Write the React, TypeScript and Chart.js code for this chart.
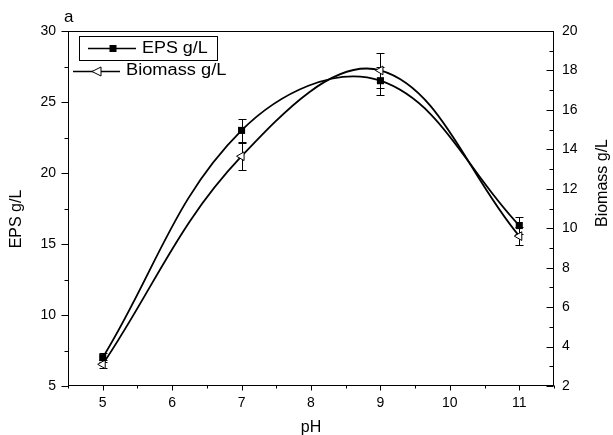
import { useEffect, useRef } from 'react';
import { Chart, registerables } from 'chart.js';

Chart.register(...registerables);

const phValues = [5, 7, 9, 11];
const epsValues = [7.0, 23.0, 26.5, 16.3];
const epsErrors = [0.3, 0.82, 1.0, 0.6];
const biomassValues = [3.1, 13.65, 18.0, 9.6];
const biomassErrors = [0.2, 0.68, 0.89, 0.45];

const xTicks = [5, 6, 7, 8, 9, 10, 11];
const xMinorTicks = [4.5, 5.5, 6.5, 7.5, 8.5, 9.5, 10.5, 11.5];
const epsTicks = [5, 10, 15, 20, 25, 30];
const epsMinorTicks = [7.5, 12.5, 17.5, 22.5, 27.5];
const biomassTicks = [2, 4, 6, 8, 10, 12, 14, 16, 18, 20];
const biomassMinorTicks = [3, 5, 7, 9, 11, 13, 15, 17, 19];

const FONT = "'Liberation Sans', Arial, Helvetica, sans-serif";

const overlayPlugin = {
  id: 'overlay',
  beforeDatasetsDraw(chart: any) {
    const ctx = chart.ctx;
    const x = chart.scales.x;
    const sets = [
      { scale: chart.scales.y, vals: epsValues, errs: epsErrors },
      { scale: chart.scales.y2, vals: biomassValues, errs: biomassErrors },
    ];
    ctx.save();
    ctx.strokeStyle = '#000';
    ctx.lineWidth = 1;
    for (const s of sets) {
      phValues.forEach((p, i) => {
        const px = Math.round(x.getPixelForValue(p)) + 0.5;
        const top = Math.round(s.scale.getPixelForValue(s.vals[i] + s.errs[i])) + 0.5;
        const bot = Math.round(s.scale.getPixelForValue(s.vals[i] - s.errs[i])) + 0.5;
        ctx.beginPath();
        ctx.moveTo(px, top);
        ctx.lineTo(px, bot);
        ctx.moveTo(px - 4, top);
        ctx.lineTo(px + 4, top);
        ctx.moveTo(px - 4, bot);
        ctx.lineTo(px + 4, bot);
        ctx.stroke();
      });
    }
    ctx.restore();
  },
  afterDraw(chart: any) {
    const ctx = chart.ctx;
    const a = chart.chartArea;
    const xs = chart.scales.x;
    const ys = chart.scales.y;
    const y2 = chart.scales.y2;
    ctx.save();
    ctx.strokeStyle = '#000';
    ctx.lineWidth = 1;
    const L = Math.round(a.left) + 0.5;
    const R = Math.round(a.right) - 0.5;
    const T = Math.round(a.top) + 0.5;
    const B = Math.round(a.bottom) - 0.5;
    ctx.strokeRect(L, T, R - L, B - T);
    ctx.beginPath();
    xTicks.forEach((v) => {
      const px = Math.round(xs.getPixelForValue(v)) + 0.5;
      ctx.moveTo(px, B);
      ctx.lineTo(px, B + 5);
    });
    xMinorTicks.forEach((v) => {
      const px = Math.round(xs.getPixelForValue(v)) + 0.5;
      ctx.moveTo(px, B);
      ctx.lineTo(px, B + 3);
    });
    epsTicks.forEach((v) => {
      const py = Math.round(ys.getPixelForValue(v)) + 0.5;
      ctx.moveTo(L, py);
      ctx.lineTo(L - 7, py);
    });
    epsMinorTicks.forEach((v) => {
      const py = Math.round(ys.getPixelForValue(v)) + 0.5;
      ctx.moveTo(L, py);
      ctx.lineTo(L - 4, py);
    });
    biomassTicks.forEach((v) => {
      const py = Math.round(y2.getPixelForValue(v)) + 0.5;
      ctx.moveTo(R, py);
      ctx.lineTo(R - 7, py);
    });
    biomassMinorTicks.forEach((v) => {
      const py = Math.round(y2.getPixelForValue(v)) + 0.5;
      ctx.moveTo(R, py);
      ctx.lineTo(R - 4, py);
    });
    ctx.stroke();

    // titles
    ctx.fillStyle = '#000';
    ctx.textBaseline = 'middle';
    ctx.textAlign = 'center';
    ctx.font = `16px ${FONT}`;
    ctx.fillText('pH', (a.left + a.right) / 2, 428);
    ctx.save();
    ctx.translate(17, 219);
    ctx.rotate(-Math.PI / 2);
    ctx.fillText('EPS g/L', 0, 0);
    ctx.restore();
    ctx.save();
    ctx.translate(603, 183);
    ctx.rotate(-Math.PI / 2);
    ctx.fillText('Biomass g/L', 0, 0);
    ctx.restore();
    ctx.textAlign = 'left';
    ctx.font = `17px ${FONT}`;
    ctx.fillText('a', 64, 17);

    // legend
    ctx.lineWidth = 1;
    ctx.strokeRect(79.5, 36.5, 138, 24);
    ctx.lineWidth = 1.5;
    ctx.beginPath();
    ctx.moveTo(88, 48.5);
    ctx.lineTo(136, 48.5);
    ctx.moveTo(73, 71.5);
    ctx.lineTo(120, 71.5);
    ctx.stroke();
    ctx.fillRect(109.5, 45, 7, 7);
    ctx.lineWidth = 1;
    ctx.fillStyle = '#fff';
    ctx.beginPath();
    ctx.moveTo(92, 71.5);
    ctx.lineTo(101, 67);
    ctx.lineTo(101, 76);
    ctx.closePath();
    ctx.fill();
    ctx.stroke();
    ctx.fillStyle = '#000';
    ctx.font = `16px ${FONT}`;
    ctx.save();
    ctx.translate(142, 48.5);
    ctx.scale(1.12, 1);
    ctx.fillText('EPS g/L', 0, 0);
    ctx.restore();
    ctx.save();
    ctx.translate(126, 71);
    ctx.scale(1.14, 1);
    ctx.fillText('Biomass g/L', 0, 0);
    ctx.restore();
    ctx.restore();
  },
};

export default function App() {
  const ref = useRef<HTMLCanvasElement | null>(null);
  useEffect(() => {
    if (!ref.current) return;
    const tickFont = { family: FONT, size: 14 };
    const chart = new Chart(ref.current, {
      type: 'line',
      data: {
        datasets: [
          {
            label: 'EPS g/L',
            data: phValues.map((x, i) => ({ x, y: epsValues[i] })),
            yAxisID: 'y',
            borderColor: '#000',
            borderWidth: 1.8,
            tension: 0.38,
            pointStyle: 'rect',
            pointRadius: 5,
            pointBackgroundColor: '#000',
            pointBorderColor: '#000',
            pointBorderWidth: 0,
            fill: false,
            clip: false as any,
          },
          {
            label: 'Biomass g/L',
            data: phValues.map((x, i) => ({ x, y: biomassValues[i] })),
            yAxisID: 'y2',
            borderColor: '#000',
            borderWidth: 1.8,
            tension: 0.38,
            pointStyle: 'triangle',
            pointRotation: -90,
            pointRadius: 5,
            pointBackgroundColor: '#fff',
            pointBorderColor: '#000',
            pointBorderWidth: 1,
            fill: false,
            clip: false as any,
          },
        ],
      },
      options: {
        responsive: false,
        animation: false,
        devicePixelRatio: 1,
        layout: { padding: { top: 31, left: 0, right: 0, bottom: 0 } },
        plugins: { legend: { display: false }, tooltip: { enabled: false }, title: { display: false } },
        scales: {
          x: {
            type: 'linear',
            min: 4.5,
            max: 11.5,
            grid: { display: false, drawTicks: false },
            border: { display: false },
            ticks: { font: tickFont, color: '#000', padding: 9, maxRotation: 0 },
            afterBuildTicks: (s: any) => {
              s.ticks = xTicks.map((v) => ({ value: v }));
            },
            afterFit: (s: any) => {
              s.height = 49;
            },
          },
          y: {
            type: 'linear',
            position: 'left',
            min: 5,
            max: 30,
            grid: { display: false, drawTicks: false },
            border: { display: false },
            ticks: { font: tickFont, color: '#000', padding: 12 },
            afterBuildTicks: (s: any) => {
              s.ticks = epsTicks.map((v) => ({ value: v }));
            },
            afterFit: (s: any) => {
              s.width = 68;
            },
          },
          y2: {
            type: 'linear',
            position: 'right',
            min: 2,
            max: 20,
            grid: { display: false, drawTicks: false },
            border: { display: false },
            ticks: { font: tickFont, color: '#000', padding: 8 },
            afterBuildTicks: (s: any) => {
              s.ticks = biomassTicks.map((v) => ({ value: v }));
            },
            afterFit: (s: any) => {
              s.width = 59;
            },
          },
        },
      },
      plugins: [overlayPlugin],
    } as any);
    return () => chart.destroy();
  }, []);
  return (
    <div style={{ position: 'fixed', left: 0, top: 0, width: 613, height: 435, background: '#fff' }}>
      <canvas ref={ref} width={613} height={435} style={{ display: 'block' }} />
    </div>
  );
}
